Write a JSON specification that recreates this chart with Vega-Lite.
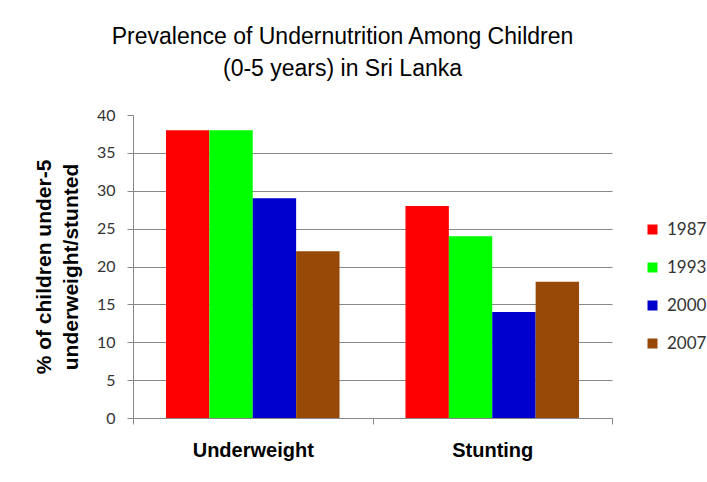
{
  "$schema": "https://vega.github.io/schema/vega-lite/v6.json",
  "width": 479,
  "height": 303,
  "autosize": {"type": "none"},
  "padding": {"left": 133, "top": 115, "right": 95, "bottom": 64},
  "background": "white",
  "title": {
    "text": ["Prevalence of Undernutrition Among Children", "(0-5 years) in Sri Lanka"],
    "font": "Liberation Sans",
    "fontSize": 23,
    "fontWeight": "normal",
    "color": "black",
    "lineHeight": 32,
    "anchor": "middle",
    "frame": "group",
    "dx": -30,
    "offset": 26
  },
  "data": {
    "values": [
      {"indicator": "Underweight", "year": "1987", "value": 38},
      {"indicator": "Underweight", "year": "1993", "value": 38},
      {"indicator": "Underweight", "year": "2000", "value": 29},
      {"indicator": "Underweight", "year": "2007", "value": 22},
      {"indicator": "Stunting", "year": "1987", "value": 28},
      {"indicator": "Stunting", "year": "1993", "value": 24},
      {"indicator": "Stunting", "year": "2000", "value": 14},
      {"indicator": "Stunting", "year": "2007", "value": 18}
    ]
  },
  "mark": {"type": "bar"},
  "encoding": {
    "x": {
      "field": "indicator",
      "type": "nominal",
      "sort": ["Underweight", "Stunting"],
      "scale": {"paddingInner": 0, "paddingOuter": 0},
      "axis": {
        "title": null,
        "labelAngle": 0,
        "labelFont": "Liberation Sans",
        "labelFontSize": 20,
        "labelFontWeight": "bold",
        "labelColor": "black",
        "labelPadding": 16,
        "tickBand": "extent",
        "tickSize": 6,
        "tickColor": "#888888",
        "domainColor": "#888888",
        "grid": false
      }
    },
    "xOffset": {
      "field": "year",
      "type": "nominal",
      "scale": {"paddingInner": 0, "paddingOuter": 0.76}
    },
    "y": {
      "field": "value",
      "type": "quantitative",
      "scale": {"domain": [0, 40], "nice": false},
      "axis": {
        "title": ["% of children under-5", "underweight/stunted"],
        "titleFont": "Liberation Sans",
        "titleFontSize": 21,
        "titleFontWeight": "bold",
        "titleColor": "black",
        "titleLineHeight": 27,
        "titlePadding": 15,
        "values": [0, 5, 10, 15, 20, 25, 30, 35, 40],
        "labelFont": "Lato",
        "labelFontSize": 16,
        "labelColor": "#333333",
        "labelPadding": 12,
        "tickSize": 6,
        "tickColor": "#888888",
        "domainColor": "#888888",
        "grid": true,
        "gridColor": "#888888",
        "gridOpacity": {"condition": {"test": "datum.value == 40", "value": 0}, "value": 1}
      }
    },
    "color": {
      "field": "year",
      "type": "nominal",
      "scale": {
        "domain": ["1987", "1993", "2000", "2007"],
        "range": ["#FF0000", "#00FF00", "#0000CC", "#984807"]
      },
      "legend": {
        "title": null,
        "orient": "none",
        "legendX": 511,
        "legendY": 106,
        "padding": 0,
        "symbolType": "square",
        "symbolSize": 100,
        "symbolStrokeWidth": 0,
        "symbolOpacity": 1,
        "labelFont": "Lato",
        "labelFontSize": 17,
        "labelColor": "#333333",
        "labelOffset": 6,
        "rowPadding": 20
      }
    }
  },
  "config": {
    "view": {"stroke": null}
  }
}
